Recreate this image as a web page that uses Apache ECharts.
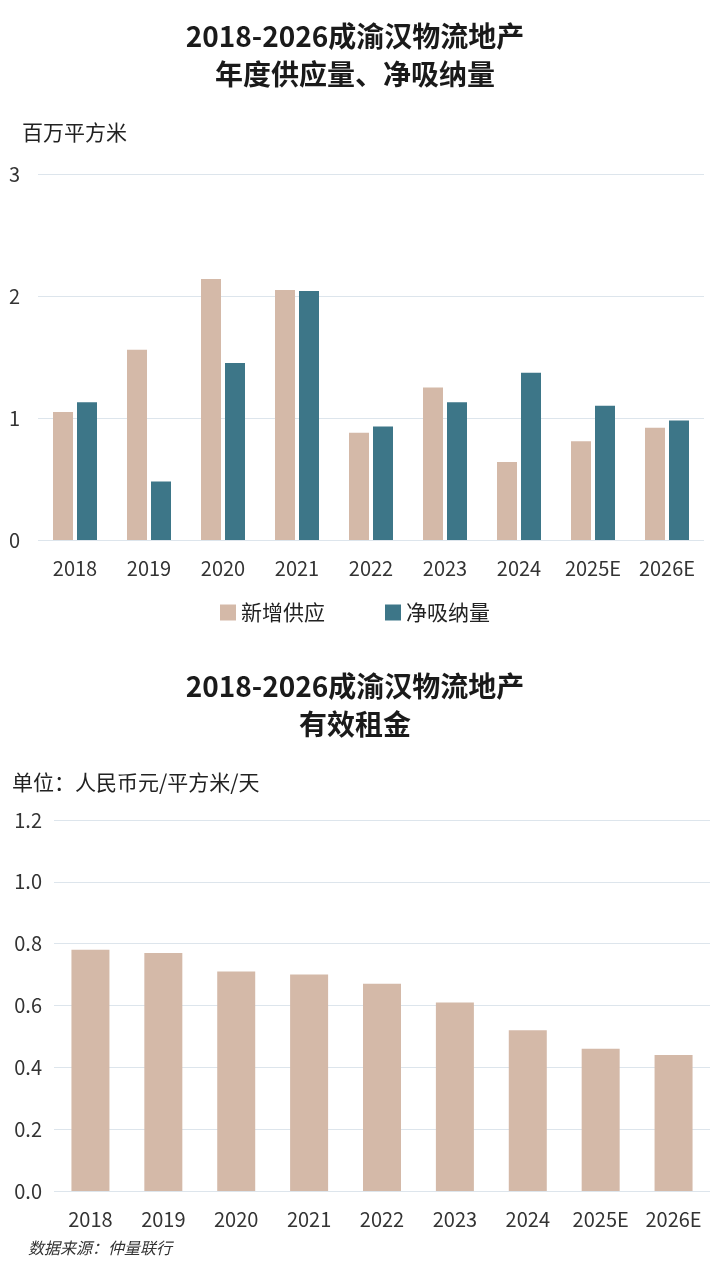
<!DOCTYPE html>
<html><head><meta charset="utf-8">
<script src="https://cdn.jsdelivr.net/npm/echarts@6/dist/echarts.min.js"></script>
<style>html,body{margin:0;background:#fff}#c{width:710px;height:1280px}</style>
</head><body><div id="c"></div>
<script>
const years = ['2018','2019','2020','2021','2022','2023','2024','2025E','2026E'];
const supply = [1.05, 1.56, 2.14, 2.05, 0.88, 1.25, 0.64, 0.81, 0.92];
const absorption = [1.13, 0.48, 1.45, 2.04, 0.93, 1.13, 1.37, 1.10, 0.98];
const rent = [0.78, 0.77, 0.71, 0.70, 0.67, 0.61, 0.52, 0.46, 0.44];

const font = '"Noto Sans CJK SC", "Noto Sans", sans-serif';
const axisText = {color: '#333', fontSize: 20, fontFamily: font};
const split = {lineStyle: {color: '#dde5ec', width: 1}};

const chart = echarts.init(document.getElementById('c'));
chart.setOption({
    textStyle: {fontFamily: font},
    title: [
        {text: '2018-2026成渝汉物流地产\n年度供应量、净吸纳量', left: 'center', top: 12,
         textStyle: {fontSize: 28, fontWeight: 'bold', color: '#1a1a1a', lineHeight: 38, fontFamily: font}},
        {text: '2018-2026成渝汉物流地产\n有效租金', left: 'center', top: 662,
         textStyle: {fontSize: 28, fontWeight: 'bold', color: '#1a1a1a', lineHeight: 38, fontFamily: font}}
    ],
    graphic: [
        {type: 'text', left: 22, top: 122, style: {text: '百万平方米', fontSize: 21, fill: '#222', fontFamily: font}},
        {type: 'text', left: 12, top: 772, style: {text: '单位：人民币元/平方米/天', fontSize: 21, fill: '#222', fontFamily: font}},
        {type: 'text', left: 28, top: 1240, style: {text: '数据来源：仲量联行', fontSize: 16, fill: '#333', fontStyle: 'italic', fontFamily: font}}
    ],
    legend: {
        top: 597, left: 'center', itemWidth: 16, itemHeight: 16, itemGap: 60,
        icon: 'rect', textStyle: {fontSize: 21, color: '#222', fontFamily: font},
        data: ['新增供应', '净吸纳量']
    },
    grid: [
        {left: 38, right: 6, top: 174, height: 366},
        {left: 54, right: 0, top: 820, height: 371}
    ],
    xAxis: [
        {type: 'category', gridIndex: 0, data: years, axisLine: {show: false}, axisTick: {show: false},
         axisLabel: {...axisText, margin: 18, interval: 0}},
        {type: 'category', gridIndex: 1, data: years, axisLine: {show: false}, axisTick: {show: false},
         axisLabel: {...axisText, margin: 18, interval: 0}}
    ],
    yAxis: [
        {type: 'value', gridIndex: 0, min: 0, max: 3, interval: 1, splitLine: split,
         axisLabel: {...axisText, margin: 18}},
        {type: 'value', gridIndex: 1, min: 0, max: 1.2, interval: 0.2, splitLine: split,
         axisLabel: {...axisText, margin: 12, formatter: v => v.toFixed(1)}}
    ],
    series: [
        {name: '新增供应', type: 'bar', xAxisIndex: 0, yAxisIndex: 0, data: supply,
         barWidth: 20, barGap: '20%', itemStyle: {color: '#d4b9a8'}},
        {name: '净吸纳量', type: 'bar', xAxisIndex: 0, yAxisIndex: 0, data: absorption,
         barWidth: 20, itemStyle: {color: '#3d7688'}},
        {name: '有效租金', type: 'bar', xAxisIndex: 1, yAxisIndex: 1, data: rent,
         barWidth: 38, itemStyle: {color: '#d4b9a8'}}
    ]
});
</script></body></html>
